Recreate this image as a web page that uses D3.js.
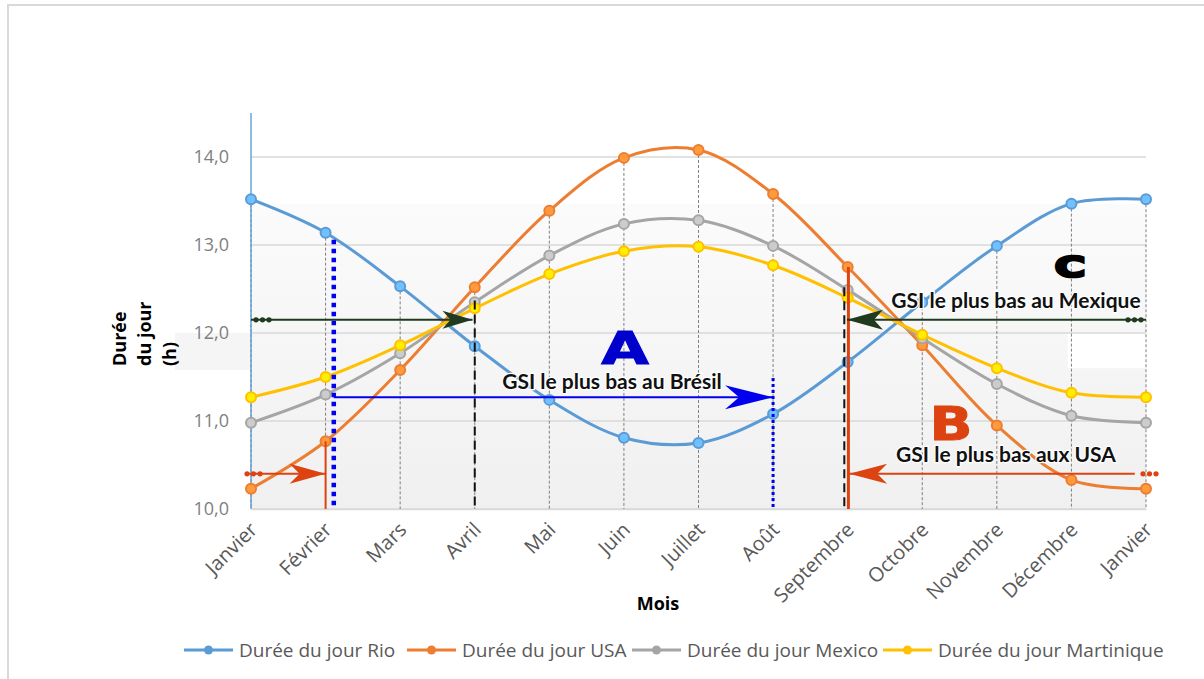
<!DOCTYPE html>
<html>
<head>
<meta charset="utf-8">
<script src="https://cdn.jsdelivr.net/npm/d3@7"></script>
<style>
  body { margin: 0; background: #fff; }
  svg { display: block; }
</style>
</head>
<body>
<svg id="chart" width="1204" height="679"></svg>
<script>
// Durée du jour par mois
const months = ['Janvier', 'Février', 'Mars', 'Avril', 'Mai', 'Juin', 'Juillet',
  'Août', 'Septembre', 'Octobre', 'Novembre', 'Décembre', 'Janvier'];
const rio        = [13.52, 13.14, 12.53, 11.85, 11.24, 10.81, 10.75, 11.08, 11.67, 12.35, 12.99, 13.47, 13.52];
const usa        = [10.23, 10.77, 11.58, 12.52, 13.39, 13.99, 14.08, 13.58, 12.75, 11.86, 10.95, 10.33, 10.23];
const mexico     = [10.98, 11.30, 11.77, 12.35, 12.88, 13.24, 13.28, 12.99, 12.49, 11.94, 11.42, 11.06, 10.98];
const martinique = [11.27, 11.50, 11.86, 12.28, 12.67, 12.93, 12.98, 12.77, 12.40, 11.98, 11.60, 11.32, 11.27];
const yTicks = [10, 11, 12, 13, 14];
const seriesNames = ['Durée du jour Rio', 'Durée du jour USA', 'Durée du jour Mexico', 'Durée du jour Martinique'];
const seriesColors = ['#5b9bd5', '#ed7d31', '#a5a5a5', '#ffc000'];

const svg = d3.select('svg#chart');
const width = +svg.attr('width');
const height = +svg.attr('height');
const margin = {top: 113, right: 58, bottom: 170, left: 251};
const innerWidth = width - margin.left - margin.right;
const innerHeight = height - margin.top - margin.bottom;

const xScale = d3.scaleLinear().domain([0, months.length - 1]).range([0, innerWidth]);
const yScale = d3.scaleLinear().domain([10, 14.5]).range([innerHeight, 0]);

// outer frame
svg.append('path')
  .attr('d', 'M8,679 L8,5 L1204,5')
  .attr('fill', 'none').attr('stroke', '#d9d9d9').attr('stroke-width', 2);

const defs = svg.append('defs');
const grad = defs.append('linearGradient').attr('id', 'bg').attr('x1', 0).attr('x2', 0).attr('y1', 0).attr('y2', 1);
grad.append('stop').attr('offset', '0%').attr('stop-color', '#fbfbfb');
grad.append('stop').attr('offset', '100%').attr('stop-color', '#f0f0f0');

const g = svg.append('g').attr('transform', `translate(${margin.left}, ${margin.top})`);

// plot background (lower part greyish)
g.append('rect')
  .attr('x', 0).attr('width', innerWidth)
  .attr('y', yScale(13.47)).attr('height', innerHeight - yScale(13.47))
  .attr('fill', 'url(#bg)');
g.append('rect')
  .attr('x', xScale(10.95)).attr('width', innerWidth - xScale(10.95))
  .attr('y', yScale(12)).attr('height', yScale(11.6) - yScale(12))
  .attr('fill', '#fff');
g.append('rect')
  .attr('x', -76).attr('width', 76)
  .attr('y', yScale(12)).attr('height', yScale(11.58) - yScale(12))
  .attr('fill', '#f5f5f5');

// horizontal gridlines
g.selectAll('.grid').data(yTicks).enter().append('line')
  .attr('x1', 0).attr('x2', innerWidth)
  .attr('y1', d => yScale(d)).attr('y2', d => yScale(d))
  .attr('stroke', '#d9d9d9').attr('stroke-width', 1.5);

// y axis
const yAxis = d3.axisLeft(yScale).tickValues(yTicks).tickSize(0).tickPadding(22)
  .tickFormat(d => d3.format('.1f')(d).replace('.', ','));
const yG = g.append('g').call(yAxis)
  .attr('font-size', null).attr('font-family', null);
yG.select('.domain').remove();
yG.selectAll('text')
  .attr('fill', '#7f7f7f')
  .attr('font-family', '"Open Sans", sans-serif').attr('font-size', 18);

// x axis
const xAxis = d3.axisBottom(xScale).tickValues(d3.range(months.length)).tickSize(0)
  .tickFormat(i => months[i]);
const xG = g.append('g').attr('transform', `translate(0, ${innerHeight})`).call(xAxis)
  .attr('font-size', null).attr('font-family', null);
xG.select('.domain').attr('stroke', '#d9d9d9').attr('stroke-width', 1.5);
xG.selectAll('text')
  .attr('fill', '#595959')
  .attr('font-family', '"Open Sans", sans-serif').attr('font-size', 20)
  .attr('text-anchor', 'end')
  .attr('dy', 0).attr('y', 0)
  .attr('transform', 'translate(7, 22) rotate(-45)');

// drop lines
const allSeries = [rio, usa, mexico, martinique];
g.selectAll('.drop').data(months).enter().append('line')
  .attr('x1', (d, i) => xScale(i)).attr('x2', (d, i) => xScale(i))
  .attr('y1', (d, i) => yScale(d3.max(allSeries, s => s[i])))
  .attr('y2', innerHeight)
  .attr('stroke', '#7f7f7f').attr('stroke-width', 1).attr('stroke-dasharray', '3,2');

// y axis line (blue)
g.append('line').attr('x1', 0).attr('x2', 0).attr('y1', 0).attr('y2', innerHeight)
  .attr('stroke', '#5b9bd5').attr('stroke-width', 1.5).attr('opacity', 0.9);

// series
const line = d3.line()
  .x((d, i) => xScale(i))
  .y(d => yScale(d))
  .curve(d3.curveCatmullRom.alpha(0.5));

allSeries.forEach((s, k) => {
  const c = seriesColors[k];
  g.append('path').datum(s)
    .attr('d', line)
    .attr('fill', 'none').attr('stroke', c).attr('stroke-width', 3);
  g.selectAll(`.m${k}`).data(s).enter().append('circle')
    .attr('cx', (d, i) => xScale(i)).attr('cy', d => yScale(d))
    .attr('r', 5)
    .attr('fill', d3.color(c).brighter(0.6)).attr('stroke', c).attr('stroke-width', 2);
});

// annotations
const arrowHead = (x, y, dir, len, half, notch, color) => {
  const p = d3.path();
  p.moveTo(x, y);
  p.lineTo(x - dir * len, y - half);
  p.lineTo(x - dir * (len - notch), y);
  p.lineTo(x - dir * len, y + half);
  p.closePath();
  g.append('path').attr('d', p.toString()).attr('fill', color);
};
const tailDots = (x, y, dir, color) => {
  [0, 1, 2].forEach(j => {
    g.append('circle').attr('cx', x + dir * j * 6.5).attr('cy', y).attr('r', 2.6).attr('fill', color);
  });
};
const vline = (idx, top, color, w, dash) => {
  g.append('line')
    .attr('x1', xScale(idx)).attr('x2', xScale(idx))
    .attr('y1', yScale(top)).attr('y2', innerHeight)
    .attr('stroke', color).attr('stroke-width', w)
    .attr('stroke-dasharray', dash);
};
const hline = (i1, i2, v, color, w) => {
  g.append('line')
    .attr('x1', xScale(i1)).attr('x2', xScale(i2))
    .attr('y1', yScale(v)).attr('y2', yScale(v))
    .attr('stroke', color).attr('stroke-width', w);
};

const green = '#1f3a1f';
const blue = '#0000ee';
const red = '#dd4311';

// black dashed verticals
vline(3, 12.37, '#111', 2, '9,5');
vline(7.955, 12.52, '#111', 2, '9,5');
// blue dotted verticals
vline(1.11, 13.06, blue, 4.5, '4.5,4.5');
vline(7, 11.49, blue, 3, '3,3');
// red solid verticals
vline(1, 10.77, red, 2, null);
vline(8.01, 12.75, red, 3, null);

// green arrows
hline(0, 2.97, 12.15, green, 2);
arrowHead(xScale(2.97), yScale(12.15), 1, 30, 9, 8, green);
tailDots(xScale(0) + 5, yScale(12.15), 1, green);
hline(7.99, 12, 12.15, green, 2);
arrowHead(xScale(7.99), yScale(12.15), -1, 36, 10, 9, green);
tailDots(xScale(12) - 5, yScale(12.15), -1, green);

// blue arrow
hline(1.11, 7, 11.27, blue, 2);
arrowHead(xScale(7), yScale(11.27), 1, 48, 12, 14, blue);

// red arrows
hline(-0.08, 1, 10.40, red, 2);
arrowHead(xScale(1), yScale(10.40), 1, 36, 10, 10, red);
tailDots(xScale(-0.08) + 2, yScale(10.40), 1, red);
hline(8.02, 11.85, 10.40, red, 2);
arrowHead(xScale(8.02), yScale(10.40), -1, 38, 10, 10, red);
tailDots(xScale(12) - 3, yScale(10.40), 1, red);

const label = (txt, x, y, size, color) => {
  g.append('text').text(txt)
    .attr('x', x - margin.left).attr('y', y - margin.top)
    .attr('text-anchor', 'middle')
    .attr('fill', color)
    .attr('stroke', '#fff').attr('stroke-width', 2.5).attr('paint-order', 'stroke')
    .attr('font-family', 'Lato, sans-serif').attr('font-weight', 'bold').attr('font-size', size);
};
label('GSI le plus bas au Brésil', 612, 389, 21, '#111');
label('GSI le plus bas aux USA', 1006, 462, 21, '#111');
label('GSI le plus bas au Mexique', 1016, 308, 21, '#111');

const bigLetter = (txt, x, y, size, sx, sy, color, sw) => {
  const bx = x - margin.left, by = y - margin.top;
  g.append('text').text(txt)
    .attr('x', 0).attr('y', 0)
    .attr('text-anchor', 'middle')
    .attr('fill', color).attr('stroke', color).attr('stroke-width', sw)
    .attr('transform', `translate(${bx}, ${by}) scale(${sx}, ${sy})`)
    .attr('font-family', '"DejaVu Sans", sans-serif').attr('font-weight', 'bold').attr('font-size', size);
};
bigLetter('A', 625, 364, 44, 1.4, 1, '#0000cc', 1);
bigLetter('B', 951, 440, 47, 1.2, 1, red, 1);
bigLetter('C', 1070, 277, 32, 1.3, 0.9, '#000', 3);

// axis titles
const yTitle = svg.append('g').attr('transform', 'translate(0, 366)');
['Durée', 'du jour', '(h)'].forEach((t, i) => {
  yTitle.append('text').text(t)
    .attr('transform', `translate(${126 + i * 25}, 0) rotate(-90)`)
    .attr('text-anchor', 'start')
    .attr('fill', '#000')
    .attr('font-family', '"Open Sans", sans-serif').attr('font-weight', 'bold').attr('font-size', 18);
});
svg.append('text').text('Mois')
  .attr('x', 658).attr('y', 610).attr('text-anchor', 'middle')
  .attr('fill', '#000')
  .attr('font-family', '"Open Sans", sans-serif').attr('font-weight', 'bold').attr('font-size', 18);

// legend
const legendX = [184, 407, 632, 883];
const legend = svg.append('g').attr('transform', 'translate(0, 650)');
seriesNames.forEach((name, k) => {
  const lg = legend.append('g').attr('transform', `translate(${legendX[k]}, 0)`);
  lg.append('line').attr('x1', 0).attr('x2', 49).attr('y1', 0).attr('y2', 0)
    .attr('stroke', seriesColors[k]).attr('stroke-width', 3);
  lg.append('circle').attr('cx', 24.5).attr('cy', 0).attr('r', 4.5).attr('fill', seriesColors[k]);
  lg.append('text').text(name).attr('x', 55).attr('y', 7)
    .attr('fill', '#595959')
    .attr('font-family', '"Open Sans", sans-serif').attr('font-size', 19);
});
</script>
</body>
</html>
